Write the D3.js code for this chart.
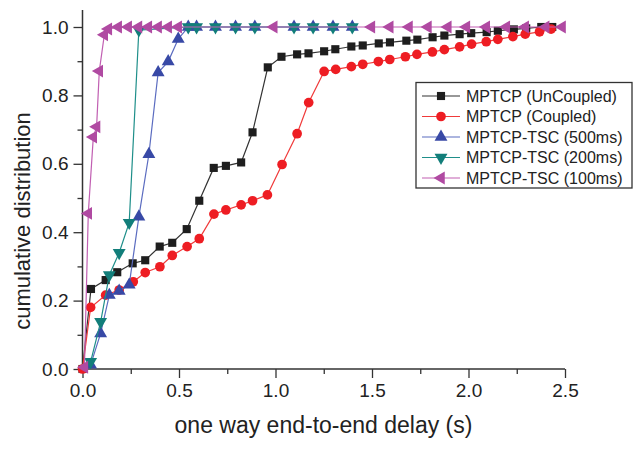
<!DOCTYPE html>
<html><head><meta charset="utf-8">
<script src="https://cdn.jsdelivr.net/npm/d3@7"></script>
<style>body{margin:0;background:#fff}svg{display:block}text{font-family:"Liberation Sans",Arial,sans-serif;fill:#222}</style>
</head><body><svg id="c" width="637" height="450"></svg>
<script>
const seriesNames = ["MPTCP (UnCoupled)","MPTCP (Coupled)","MPTCP-TSC (500ms)","MPTCP-TSC (200ms)","MPTCP-TSC (100ms)"];
const xTickLabels = ["0.0","0.5","1.0","1.5","2.0","2.5"];
const yTickLabels = ["0.0","0.2","0.4","0.6","0.8","1.0"];
const uncoupled = [[0,0],[0.044,0.234],[0.12,0.26],[0.18,0.283],[0.26,0.309],[0.325,0.318],[0.40,0.358],[0.465,0.369],[0.54,0.409],[0.605,0.492],[0.68,0.588],[0.743,0.594],[0.822,0.604],[0.881,0.692],[0.96,0.882],[1.031,0.913],[1.112,0.920],[1.171,0.923],[1.252,0.929],[1.31,0.935],[1.393,0.943],[1.452,0.946],[1.535,0.952],[1.593,0.955],[1.678,0.960],[1.735,0.963],[1.814,0.970],[1.875,0.975],[1.954,0.979],[2.014,0.982],[2.094,0.985],[2.152,0.989],[2.235,0.993],[2.299,0.996],[2.377,1.0],[2.434,1.0]];
const coupled = [[0,0],[0.042,0.18],[0.12,0.216],[0.19,0.231],[0.263,0.255],[0.325,0.282],[0.401,0.299],[0.465,0.332],[0.542,0.358],[0.605,0.381],[0.681,0.453],[0.743,0.465],[0.822,0.48],[0.881,0.492],[0.958,0.509],[1.034,0.598],[1.112,0.688],[1.172,0.779],[1.252,0.870],[1.312,0.876],[1.393,0.884],[1.452,0.891],[1.533,0.899],[1.592,0.905],[1.673,0.913],[1.733,0.920],[1.813,0.927],[1.875,0.934],[1.954,0.942],[2.016,0.950],[2.092,0.957],[2.152,0.964],[2.23,0.972],[2.294,0.979],[2.368,0.986],[2.428,0.994]];
const tsc500 = [[0.042,0.012],[0.094,0.104],[0.139,0.216],[0.19,0.228],[0.242,0.246],[0.292,0.445],[0.344,0.628],[0.392,0.867],[0.444,0.899],[0.496,0.965],[0.548,1.0],[0.591,1.0],[0.689,1.0],[0.793,1.0],[0.893,1.0],[1.096,1.0],[1.195,1.0],[1.298,1.0],[1.398,1.0]];
const tsc200 = [[0.042,0.021],[0.094,0.138],[0.139,0.275],[0.19,0.34],[0.242,0.428],[0.292,0.991],[0.548,1.0],[0.591,1.0],[0.689,1.0],[0.793,1.0],[0.893,1.0],[1.096,1.0],[1.195,1.0],[1.298,1.0],[1.398,1.0]];
const tsc100 = [[0.01,0.005],[0.03,0.455],[0.056,0.678],[0.073,0.708],[0.087,0.871],[0.113,0.977],[0.134,0.994],[0.185,1.0],[0.237,1.0],[0.29,1.0],[0.341,1.0],[0.392,1.0],[0.444,1.0],[0.496,1.0],[0.991,1.0],[1.497,1.0],[1.592,1.0],[1.692,1.0],[1.79,1.0],[1.893,1.0],[1.989,1.0],[2.092,1.0],[2.196,1.0],[2.294,1.0],[2.4,1.0],[2.485,1.0]];

const series = [
  {name:seriesNames[0], data:uncoupled, line:"#333", fill:"#1e1e1e", sym:d3.symbolSquare, size:66, rot:0},
  {name:seriesNames[1], data:coupled, line:"#f03a3a", fill:"#ee1d23", sym:d3.symbolCircle, size:74, rot:0},
  {name:seriesNames[2], data:tsc500, line:"#5b6cc0", fill:"#3849a6", sym:d3.symbolTriangle, size:72, rot:0},
  {name:seriesNames[3], data:tsc200, line:"#1f8f8a", fill:"#127e7a", sym:d3.symbolTriangle, size:72, rot:180},
  {name:seriesNames[4], data:tsc100, line:"#c15fb2", fill:"#b04aa2", sym:d3.symbolTriangle, size:72, rot:-90}
];

const svg = d3.select("#c");
const x = d3.scaleLinear().domain([0,2.5]).range([82.5,565]);
const y = d3.scaleLinear().domain([0,1.05]).range([369,9.9]);

const xAxis = d3.axisBottom(x).tickValues(d3.range(0,2.51,0.5)).tickFormat((d,i)=>xTickLabels[i]).tickSize(9).tickPadding(6);
const xMinor = d3.axisBottom(x).tickValues(d3.range(0.25,2.5,0.5)).tickFormat("").tickSize(5);
const yAxis = d3.axisLeft(y).tickValues(d3.range(0,1.01,0.2)).tickFormat((d,i)=>yTickLabels[i]).tickSize(9).tickPadding(5);
const yMinor = d3.axisLeft(y).tickValues([0.1,0.3,0.5,0.7,0.9]).tickFormat("").tickSize(5);

function style(g){
  g.select(".domain").attr("stroke","#333").attr("stroke-width",1.5);
  g.selectAll(".tick line").attr("stroke","#333").attr("stroke-width",1.3);
  g.selectAll(".tick text").style("font-size","19px").attr("fill","#222");
}
const gx = svg.append("g").attr("transform","translate(0,369)").call(xAxis).call(style);
gx.select(".domain").attr("d","M82.5,0H565");
svg.append("g").attr("transform","translate(0,369)").call(xMinor).call(style).select(".domain").remove();
const gy = svg.append("g").attr("transform","translate(82.5,0)").call(yAxis).call(style);
gy.select(".domain").attr("d","M0,369V9.9");
svg.append("g").attr("transform","translate(82.5,0)").call(yMinor).call(style).select(".domain").remove();

svg.append("text").attr("x",323.5).attr("y",433).attr("text-anchor","middle").style("font-size","23px").text("one way end-to-end delay (s)");
svg.append("text").attr("transform","translate(30,221) rotate(-90)").attr("text-anchor","middle").style("font-size","22px").text("cumulative distribution");

const line = d3.line().x(d=>x(d[0])).y(d=>y(d[1]));
series.forEach(s=>{
  const g = svg.append("g");
  g.append("path").datum(s.data).attr("d",line).attr("fill","none").attr("stroke",s.line).attr("stroke-width",1.2);
  const sp = d3.symbol().type(s.sym).size(s.size)();
  g.selectAll("path.m").data(s.data).enter().append("path").attr("class","m")
    .attr("d",sp).attr("fill",s.fill)
    .attr("transform",d=>`translate(${x(d[0])},${y(d[1])}) rotate(${s.rot})`);
});

const lg = svg.append("g");
lg.append("rect").attr("x",416).attr("y",82.5).attr("width",216).attr("height",105.5).attr("fill","#fff").attr("stroke","#333").attr("stroke-width",1.3);
series.forEach((s,i)=>{
  const yy = 96 + i*20.5;
  lg.append("line").attr("x1",422).attr("x2",460).attr("y1",yy).attr("y2",yy).attr("stroke",s.line).attr("stroke-width",1.2);
  lg.append("path").attr("d",d3.symbol().type(s.sym).size(s.size)()).attr("fill",s.fill).attr("transform",`translate(441,${yy}) rotate(${s.rot})`);
  lg.append("text").attr("x",466).attr("y",yy).attr("dy","0.36em").style("font-size","16px").text(s.name);
});
</script></body></html>
